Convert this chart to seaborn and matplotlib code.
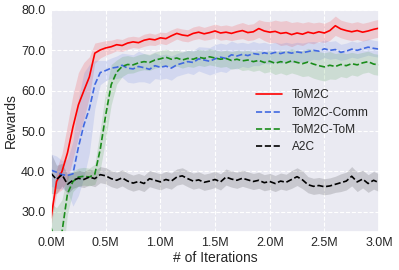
import numpy as np
import pandas as pd
import matplotlib
matplotlib.use('Agg')
import matplotlib.pyplot as plt
import seaborn as sns

# sample positions (millions of iterations), every 0.05M
iters = np.linspace(0, 3.0, 61)

tom2c = [28.5, 37.5, 40.0, 44.6, 51.0, 56.5, 60.0, 63.4, 69.3, 70.1,
         70.6, 70.9, 71.4, 71.2, 71.8, 72.1, 71.9, 72.5, 72.8, 72.6,
         73.1, 72.9, 73.6, 74.2, 73.8, 73.6, 74.2, 74.5, 74.1, 74.4,
         74.8, 74.3, 74.5, 74.2, 74.6, 74.9, 74.4, 74.6, 75.4, 74.8,
         74.5, 74.7, 74.2, 74.4, 73.9, 74.3, 74.0, 74.5, 74.2, 74.6,
         74.3, 74.9, 76.1, 75.3, 74.9, 74.6, 74.9, 74.5, 74.8, 75.2, 75.5]
tom2c_sd = [2.0, 3.0, 4.5, 7.0, 8.0, 8.0, 7.0, 5.0, 2.5, 2.0,
            1.8, 1.6, 1.5, 1.5, 1.5, 1.4, 1.4, 1.5, 1.5, 1.4,
            1.4, 1.5, 1.5, 1.4, 1.5, 1.5, 1.6, 1.6, 1.6, 1.7,
            1.7, 1.8, 1.8, 1.8, 1.9, 2.0, 2.0, 2.0, 2.2, 2.4,
            2.6, 2.8, 3.0, 3.0, 3.0, 2.8, 2.8, 2.6, 2.6, 2.4,
            2.4, 2.4, 2.4, 2.2, 2.2, 2.2, 2.2, 2.2, 2.2, 2.2, 2.2]

comm = [40.3, 39.8, 39.2, 39.0, 39.4, 46.0, 51.5, 55.5, 61.5, 64.5,
        65.0, 65.6, 65.8, 66.3, 65.6, 65.4, 66.0, 65.7, 65.3, 66.2,
        65.8, 66.1, 65.6, 66.4, 66.8, 67.2, 67.0, 67.9, 67.6, 67.3,
        67.9, 68.3, 68.0, 68.9, 68.6, 69.0, 68.7, 69.2, 69.0, 69.4,
        69.1, 69.5, 69.2, 69.6, 69.3, 69.6, 69.4, 69.7, 70.0, 69.8,
        70.4, 70.0, 70.2, 69.5, 69.8, 70.3, 70.0, 70.4, 70.8, 70.5, 70.3]
comm_sd = [4.0, 4.0, 3.5, 4.0, 8.0, 12.0, 13.0, 11.0, 6.0, 3.0,
           2.5, 2.5, 2.8, 3.0, 3.5, 3.5, 3.8, 3.5, 3.5, 3.2,
           3.0, 3.0, 3.0, 2.8, 2.8, 2.8, 3.0, 3.0, 3.2, 3.4,
           3.5, 3.5, 3.5, 3.4, 3.2, 3.0, 3.0, 3.0, 2.8, 2.6,
           2.5, 2.5, 2.5, 2.4, 2.4, 2.4, 2.4, 2.4, 2.2, 2.2,
           2.2, 2.2, 2.2, 2.0, 2.0, 2.0, 2.0, 2.0, 2.0, 2.0, 2.0]

tom = [26.0, 22.0, 25.0, 34.5, 37.5, 38.6, 38.8, 38.6, 39.3, 45.5,
       54.0, 61.5, 64.6, 66.0, 66.5, 66.4, 66.9, 67.2, 67.0, 67.6,
       67.9, 68.3, 67.8, 68.1, 67.6, 68.0, 67.8, 68.3, 68.0, 68.4,
       68.1, 67.8, 68.0, 67.5, 67.8, 67.4, 67.6, 67.2, 67.5, 67.0,
       67.3, 66.8, 67.2, 66.9, 67.4, 67.0, 66.7, 67.1, 66.6, 66.2,
       65.9, 66.3, 66.0, 66.5, 66.2, 66.7, 66.4, 66.9, 67.2, 66.6, 66.4]
tom_sd = [6.0, 9.0, 8.0, 5.0, 2.5, 2.2, 2.2, 2.2, 2.5, 5.0,
          6.0, 5.0, 3.0, 2.5, 2.2, 2.0, 2.0, 2.0, 2.0, 2.0,
          2.0, 2.0, 2.0, 2.0, 2.0, 2.0, 2.0, 2.0, 2.0, 2.0,
          2.0, 2.0, 2.0, 2.2, 2.2, 2.4, 2.4, 2.4, 2.4, 2.6,
          2.6, 2.8, 2.8, 3.0, 3.0, 3.0, 3.2, 3.4, 3.5, 3.5,
          3.5, 3.4, 3.2, 3.0, 3.0, 2.8, 2.8, 2.6, 2.6, 2.6, 2.6]

a2c = [39.5, 38.0, 39.2, 36.8, 37.8, 38.3, 38.0, 38.6, 38.2, 39.2,
       38.9, 38.2, 37.8, 38.4, 37.6, 37.1, 37.5, 37.0, 38.2, 37.8,
       37.4, 38.0, 37.6, 38.6, 38.9, 38.2, 37.6, 37.9, 37.3, 37.6,
       38.0, 37.4, 38.6, 38.1, 37.8, 38.3, 37.9, 37.5, 37.8, 37.2,
       37.5, 37.0, 37.6, 37.3, 38.0, 38.7, 37.9, 36.7, 36.3, 36.5,
       36.2, 36.4, 36.8, 37.2, 37.6, 38.8, 37.4, 38.1, 37.0, 37.8, 37.2]
a2c_sd = [5.0, 3.5, 2.8, 2.4, 2.0, 2.0, 2.0, 2.0, 2.0, 2.0,
          2.0, 2.0, 2.0, 2.0, 2.0, 2.0, 2.0, 2.0, 2.0, 2.0,
          2.0, 2.0, 2.0, 2.0, 2.0, 2.0, 2.0, 2.0, 2.0, 2.0,
          2.0, 2.0, 2.0, 2.0, 2.0, 2.0, 2.0, 2.0, 2.0, 2.0,
          2.0, 2.0, 2.0, 2.0, 2.2, 2.2, 2.2, 2.0, 2.0, 2.0,
          2.0, 2.0, 2.0, 2.2, 2.2, 2.4, 2.4, 2.2, 2.2, 2.2, 2.2]

labels = ['ToM2C', 'ToM2C-Comm', 'ToM2C-ToM', 'A2C']
xticks = [0.0, 0.5, 1.0, 1.5, 2.0, 2.5, 3.0]
xticklabels = ['0.0M', '0.5M', '1.0M', '1.5M', '2.0M', '2.5M', '3.0M']
yticks = [30, 40, 50, 60, 70, 80]
yticklabels = ['30.0', '40.0', '50.0', '60.0', '70.0', '80.0']

sns.set_theme(style='darkgrid', rc={'grid.linestyle': '--', 'grid.linewidth': 0.8})
plt.rcParams['font.family'] = ['Liberation Sans', 'DejaVu Sans']

fig, ax = plt.subplots(figsize=(3.99, 2.70), dpi=100)
fig.subplots_adjust(left=0.128, right=0.95, top=0.963, bottom=0.141)

series = [(tom2c, tom2c_sd, '#ff0000', '-'),
          (comm, comm_sd, '#4169e1', '--'),
          (tom, tom_sd, '#1a8c1a', '--'),
          (a2c, a2c_sd, '#000000', '--')]

for (mean, sd, c, ls), lab in zip(series, labels):
    mean = np.array(mean)
    sd = np.array(sd)
    ax.fill_between(iters, mean - sd, mean + sd, color=c, alpha=0.14, lw=0)
    sns.lineplot(x=iters, y=mean, ax=ax, color=c, linestyle=ls, lw=1.2, label=lab)

ax.set_xlim(0, 3.0)
ax.set_ylim(25, 80)
ax.set_xticks(xticks)
ax.set_xticklabels(xticklabels)
ax.set_yticks(yticks)
ax.set_yticklabels(yticklabels)
ax.tick_params(labelsize=9, length=0, pad=4)
ax.set_xlabel('# of Iterations', fontsize=10, labelpad=1)
ax.set_ylabel('Rewards', fontsize=10, labelpad=2)

ax.legend(loc='upper left', bbox_to_anchor=(0.6, 0.68), frameon=False,
          fontsize=8.6, handlelength=2.2, labelspacing=0.45, borderpad=0.2)

fig.savefig('out.png', dpi=100)
